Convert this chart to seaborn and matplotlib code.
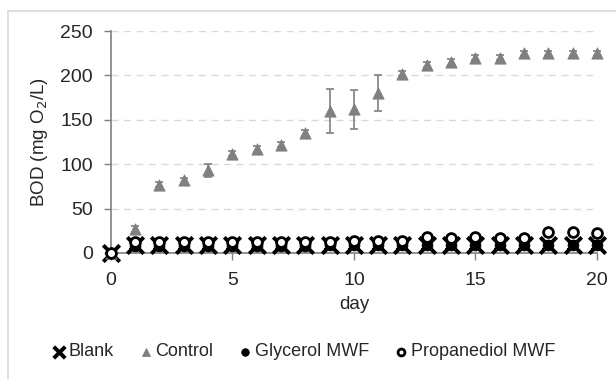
import numpy as np
import pandas as pd
import seaborn as sns
from matplotlib import pyplot as plt
from matplotlib.patches import Rectangle

# datos
days = list(range(0, 21))
control = [0, 27, 77, 82, 93, 112, 117, 122, 135, 160, 162, 180, 202, 212, 215, 220, 220, 225, 225, 225, 225]
control_err = [0, 3, 3, 3, 7, 3, 3, 3, 3, 25, 22, 20, 3, 3, 3, 3, 3, 3, 3, 3, 3]
blank = [0, 9, 9, 9, 9, 9, 9, 9, 9, 9, 9, 9, 9, 9, 9, 9, 9, 9, 9, 9, 9]
blank_err = [0, 4, 4, 4, 4, 4, 4, 4, 4, 4, 4, 4, 4, 4, 4, 4, 4, 4, 4, 4, 4]
glycerol = [0, 8, 8, 8, 8, 8, 8, 8, 8, 9, 9, 9, 9, 9, 9, 9, 9, 9, 9, 9, 9]
propanediol = [0, 12, 12, 12, 12, 12, 12, 12, 12, 12, 13, 13, 13, 18, 17, 18, 17, 17, 24, 24, 23]

sns.set_style('white')
plt.rcParams['font.family'] = ['Liberation Sans', 'DejaVu Sans']

fig = plt.figure(figsize=(6.16, 3.79), dpi=100)
ax = fig.add_axes([0.180, 0.3325, 0.789, 0.5855])

gray = '#808080'

# barras de error
ax.errorbar(days, control, yerr=control_err, fmt='none', ecolor=gray, elinewidth=1.2, capsize=3, capthick=1.2, zorder=2, clip_on=False)
ax.errorbar(days, blank, yerr=blank_err, fmt='none', ecolor='black', elinewidth=1.5, capsize=4.5, capthick=1.5, zorder=2, clip_on=False)

sns.scatterplot(x=days, y=blank, marker='x', color='black', s=140, linewidth=2.8, ax=ax, label='Blank', zorder=3, clip_on=False)
sns.scatterplot(x=days, y=control, marker='^', color=gray, s=65, edgecolor=gray, ax=ax, label='Control', zorder=3, clip_on=False)
sns.scatterplot(x=days, y=glycerol, marker='o', color='black', s=60, edgecolor='black', ax=ax, label='Glycerol MWF', zorder=4, clip_on=False)
sns.scatterplot(x=days, y=propanediol, marker='o', facecolor='white', s=50, edgecolor='black', linewidth=2, ax=ax, label='Propanediol MWF', zorder=5, clip_on=False)

ax.set_xlim(0, 20)
ax.set_ylim(0, 250)
ax.set_xticks([0, 5, 10, 15, 20])
ax.set_yticks([0, 50, 100, 150, 200, 250])
ax.yaxis.grid(True, linestyle=(0, (5, 4)), color='#d9d9d9', linewidth=1)
ax.set_axisbelow(True)

for s in ['top', 'right']:
    ax.spines[s].set_visible(False)
for s in ['left', 'bottom']:
    ax.spines[s].set_color('#7f7f7f')
    ax.spines[s].set_linewidth(1.2)

ax.tick_params(axis='both', which='major', labelsize=14, colors='#7f7f7f', labelcolor='#262626',
               direction='out', length=5, width=1, left=True, bottom=True)
ax.tick_params(axis='y', pad=8)
ax.tick_params(axis='x', pad=9)
ax.set_xlabel('day', fontsize=13.5, color='#262626', labelpad=5)
ax.set_ylabel('BOD (mg O$_2$/L)', fontsize=13.5, color='#262626', labelpad=7)

handles, labels = ax.get_legend_handles_labels()
ax.get_legend().remove()
leg = fig.legend(handles, labels, loc='center', bbox_to_anchor=(302 / 616, 1 - 352 / 379), ncol=4, frameon=False,
                 fontsize=13, handletextpad=0.0, columnspacing=1.2, markerscale=0.7, handlelength=1.1)
for t in leg.get_texts():
    t.set_color('#262626')

# borde del area del grafico
fig.patches.append(Rectangle((8 / 616, -0.1), 1.2, 1.1 - 11 / 379, transform=fig.transFigure,
                             fill=False, edgecolor='#d9d9d9', linewidth=1.2))

plt.savefig('out.png', dpi=100)
